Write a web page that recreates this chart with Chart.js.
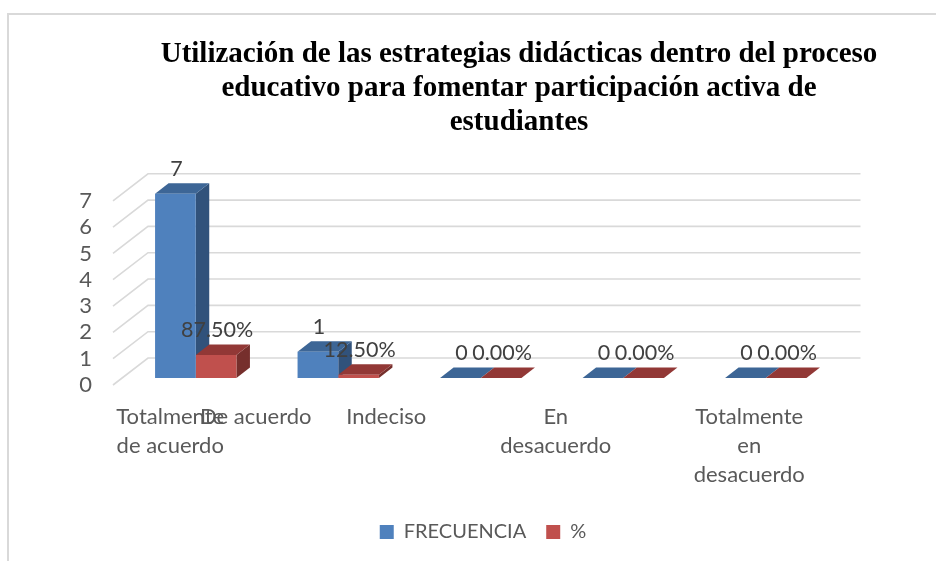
<!DOCTYPE html>
<html><head><meta charset="utf-8">
<style>html,body{margin:0;padding:0;background:#fff}canvas{display:block}</style>
<script src="https://cdn.jsdelivr.net/npm/chart.js@4"></script></head>
<body><div style="width:936px;height:561px"><canvas id="c" width="936" height="561"></canvas></div>
<script>
const categories=[["Totalmente","de acuerdo"],"De acuerdo","Indeciso",["En","desacuerdo"],["Totalmente","en","desacuerdo"]];
const frecuencia=[7,1,0,0,0];
const porcentaje=[0.875,0.125,0,0,0];
const titleLines=["Utilización de las estrategias didácticas dentro del proceso","educativo para fomentar participación activa de","estudiantes"];
const seriesNames=["FRECUENCIA","%"];
const yTicks=[0,1,2,3,4,5,6,7];

const LABEL_SHIFT=[-14,-71,-83,-56,-5];
const WALL={dx:35,dy:-27}, BAR={dx:13.5,dy:-10.5}, PLACE={dx:11.5,dy:-7};
const FACES=[{top:'#3d6696',side:'#31527b'},{top:'#923836',side:'#762f2c'}];
const FONT='Lato, Carlito, sans-serif';
const plugin3d={id:'plugin3d',
 afterLayout(chart){
  const t=chart.titleBlock; t.left=102; t.right=936;
  const l=chart.legend, d=483-(l.left+l.right)/2;
  l.left+=d; l.right+=d;
 },
 beforeDraw(chart){
  const {ctx}=chart;
  ctx.save();ctx.strokeStyle='#d9d9d9';ctx.lineWidth=2;
  ctx.beginPath();ctx.moveTo(8,561);ctx.lineTo(8,14);ctx.lineTo(936,14);ctx.stroke();
  const x=chart.scales.x,y=chart.scales.y;
  ctx.lineWidth=1.6;ctx.strokeStyle='#d9d9d9';
  yTicks.forEach(v=>{const p=y.getPixelForValue(v);
   ctx.beginPath();ctx.moveTo(x.left,p);ctx.lineTo(x.left+WALL.dx,p+WALL.dy);ctx.lineTo(x.right+WALL.dx,p+WALL.dy);ctx.stroke();});
  ctx.restore();
  x.getLabelItems().forEach((it,i)=>{it.options.translation[0]+=LABEL_SHIFT[i]});
 },
 beforeDatasetsDraw(chart){
  const {ctx}=chart;
  ctx.save();ctx.translate(PLACE.dx,PLACE.dy);
  chart.data.datasets.forEach((ds,di)=>{
   chart.getDatasetMeta(di).data.forEach(b=>{
    const l=b.x-b.width/2,r=b.x+b.width/2;
    ctx.fillStyle=FACES[di].side;
    ctx.beginPath();ctx.moveTo(r,b.y);ctx.lineTo(r+BAR.dx,b.y+BAR.dy);ctx.lineTo(r+BAR.dx,b.base+BAR.dy);ctx.lineTo(r,b.base);ctx.closePath();ctx.fill();
    ctx.fillStyle=FACES[di].top;
    ctx.beginPath();ctx.moveTo(l,b.y);ctx.lineTo(l+BAR.dx,b.y+BAR.dy);ctx.lineTo(r+BAR.dx,b.y+BAR.dy);ctx.lineTo(r,b.y);ctx.closePath();ctx.fill();
   });
  });
 },
 afterDatasetsDraw(chart){
  const {ctx}=chart;
  ctx.restore();
  ctx.save();ctx.font='21.5px '+FONT;ctx.fillStyle='#404040';ctx.textAlign='center';ctx.textBaseline='middle';
  chart.data.datasets.forEach((ds,di)=>{
   chart.getDatasetMeta(di).data.forEach((b,i)=>{
    const v=ds.data[i];
    const s=di===0?String(v):(v*100).toFixed(2)+'%';
    ctx.fillText(s,b.x+PLACE.dx+1,b.y+PLACE.dy-25);
   });
  });
  ctx.restore();
 }
};
new Chart(document.getElementById('c'),{
 type:'bar',
 data:{labels:categories,datasets:[
  {label:seriesNames[0],data:frecuencia,backgroundColor:'#4f81bd',clip:false,barPercentage:1,categoryPercentage:0.571},
  {label:seriesNames[1],data:porcentaje,backgroundColor:'#c0504d',clip:false,barPercentage:1,categoryPercentage:0.571}
 ]},
 plugins:[plugin3d],
 options:{responsive:false,animation:false,
  layout:{padding:{left:0,right:110.5,top:0,bottom:9}},
  plugins:{
   title:{display:true,text:titleLines,color:'#000',font:{family:'"Liberation Serif", serif',size:29,weight:'bold',lineHeight:1.17},padding:{top:38,bottom:61}},
   legend:{position:'bottom',labels:{color:'#595959',font:{family:FONT,size:20},boxWidth:14,boxHeight:14,padding:20}},
   tooltip:{enabled:false}
  },
  scales:{
   x:{grid:{display:false},border:{display:false},
      ticks:{color:'#595959',font:{family:FONT,size:22,lineHeight:1.32},maxRotation:0,minRotation:0,autoSkip:false,padding:9},
      afterFit(s){s.height=117}},
   y:{min:0,max:7,grid:{display:false},border:{display:false},
      ticks:{color:'#595959',font:{family:FONT,size:22},stepSize:1,padding:13,autoSkip:false},
      afterFit(s){s.width=113}}
  }
 }
});
</script></body></html>
